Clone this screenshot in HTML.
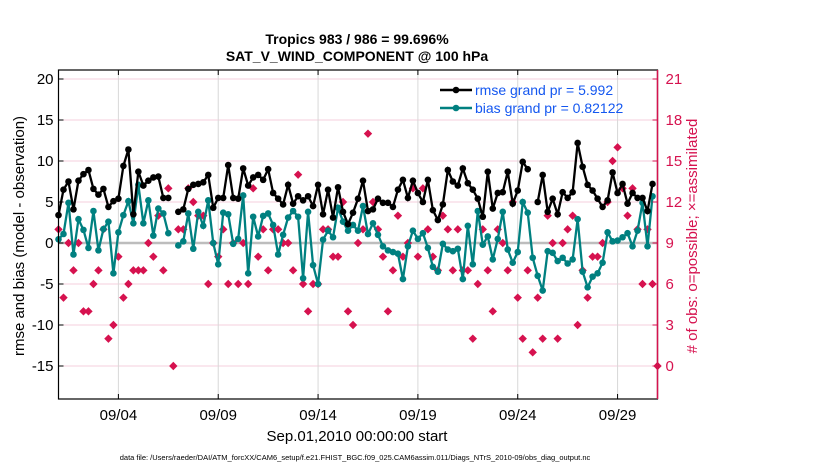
<!DOCTYPE html>
<html><head><meta charset="utf-8"><style>
body{margin:0;background:#fff;}
svg{display:block;font-family:"Liberation Sans",sans-serif;}
</style></head><body>
<svg id="chart" width="830" height="470" viewBox="0 0 830 470">
<text x="357" y="44" text-anchor="middle" font-size="14" font-weight="bold">Tropics 983 / 986 = 99.696%</text>
<text x="357" y="61" text-anchor="middle" font-size="14" font-weight="bold">SAT_V_WIND_COMPONENT @ 100 hPa</text>
<g id="grid"></g>
<g id="marks"></g>
<g id="axes"></g>
<text transform="translate(24,236) rotate(-90)" text-anchor="middle" font-size="15">rmse and bias (model - observation)</text>
<text transform="translate(697,236) rotate(-90)" text-anchor="middle" font-size="15" fill="#d6124f"># of obs: o=possible; ×=assimilated</text>
<text x="357" y="441" text-anchor="middle" font-size="15">Sep.01,2010 00:00:00 start</text>
<text x="355" y="460" text-anchor="middle" font-size="7.5">data file: /Users/raeder/DAI/ATM_forcXX/CAM6_setup/f.e21.FHIST_BGC.f09_025.CAM6assim.011/Diags_NTrS_2010-09/obs_diag_output.nc</text>
<g>
<line x1="440" y1="90" x2="472" y2="90" stroke="#000" stroke-width="2.5"/>
<circle cx="456" cy="90" r="3.3" fill="#000"/>
<text x="475" y="95" font-size="14" fill="#1457f0">rmse grand pr = 5.992</text>
<line x1="440" y1="108" x2="472" y2="108" stroke="#008080" stroke-width="2.5"/>
<circle cx="456" cy="108" r="3.3" fill="#008080"/>
<text x="475" y="113" font-size="14" fill="#1457f0">bias grand pr = 0.82122</text>
</g>
</svg>
<script>
const leftTicks=[-15,-10,-5,0,5,10,15,20];
const rightTicks=[0,3,6,9,12,15,18,21];
const dateTicks=[3,8,13,18,23,28];
const dateLabels=["09/04","09/09","09/14","09/19","09/24","09/29"];
const rmse=[3.4,6.5,7.5,4.1,7.6,8.4,8.9,6.6,5.9,6.6,4.4,5.1,5.4,9.4,11.4,3.5,8.7,7.0,7.6,8.0,8.1,5.5,5.5,null,
3.8,4.1,6.6,7.1,7.2,7.4,8.3,4.3,5.5,5.5,9.5,5.5,5.4,9.1,7.0,
8.0,8.3,7.7,9.0,6.1,5.4,4.7,7.1,4.8,5.7,5.2,5.7,4.5,7.1,3.5,6.5,3.1,6.8,3.8,2.3,3.7,5.4,7.6,3.9,4.1,5.4,4.9,4.9,4.4,6.5,7.7,5.5,7.6,6.1,5.0,7.7,4.0,2.8,
4.7,8.9,7.5,7.0,9.1,7.3,6.5,5.4,3.2,8.7,4.2,6.1,6.2,8.7,4.8,6.4,9.9,9.0,null,
5.0,8.3,3.8,5.4,3.5,6.2,5.5,6.2,12.2,9.3,7.1,6.4,5.4,4.4,5.2,8.6,6.1,7.2,4.8,6.1,5.5,5.5,3.9,7.2];
const bias=[0.45,1.1,4.9,-1.4,2.9,1.6,-0.6,3.9,-0.9,1.7,2.6,-3.7,1.3,3.4,5.1,2.4,7.1,2.4,5.2,0.9,4.2,3.6,1.2,null,
-0.3,0.2,3.6,-0.7,3.8,2.1,5.2,0.0,-2.6,3.7,3.5,-0.1,0.5,5.8,-3.7,
3.2,0.8,3.3,3.6,2.2,-1.4,1.0,3.1,3.9,3.2,-4.3,3.8,-2.7,-5.0,0.4,1.5,0.7,4.3,2.6,1.5,2.2,1.5,4.5,1.1,2.4,1.0,-0.4,-0.9,-1.1,-1.3,-4.4,-0.4,1.5,0.5,1.2,-0.6,-2.9,-3.5,
-0.1,-0.8,-1.0,-0.7,-4.4,2.1,-2.6,3.9,-0.2,0.8,-2.0,0.5,3.8,-0.8,-2.4,-1.1,5.0,3.7,-1.8,
-4.0,-5.8,-1.0,-1.2,-2.2,-1.8,-2.5,-2.0,2.9,-3.5,-5.4,-4.1,-3.7,-2.4,1.3,0.2,0.3,0.7,1.2,-0.4,1.5,4.9,-0.4,5.7];
const nObs=[10,5,9,7,9,4,4,6,7,10,2,3,8,5,6,7,7,7,9,8,11,7,13,0,10,10,13,12,11,11,6,9,8,10,6,9,6,9,6,13,8,10,7,10,10,9,9,7,14,6,4,6,6,10,10,8,8,12,4,3,9,10,17,12,10,8,4,7,11,8,9,13,8,13,10,8,7,11,10,7,10,7,7,2,6,10,7,4,10,9,7,12,5,2,7,1,5,2,11,9,2,9,10,11,3,7,5,8,8,9,12,15,16,13,11,13,10,6,10,6,0];

const X0=58.5,X1=657.5,Y0=70,Y1=399;
function xs(i){return X0+i*(X1-X0)/120;}
function xd(d){return X0+d*(X1-X0)/30;}
function yl(v){return 243-v*8.2;}
function yr(r){return 243-(r-9)*41/3;}
const NS="http://www.w3.org/2000/svg";
function mk(tag,attrs,parent){const e=document.createElementNS(NS,tag);for(const k in attrs)e.setAttribute(k,attrs[k]);parent.appendChild(e);return e;}
const grid=document.getElementById('grid'),marks=document.getElementById('marks'),axes=document.getElementById('axes');

leftTicks.forEach(v=>{
  const g=mk('line',{x1:X0,x2:X1,y1:yl(v),y2:yl(v),stroke:'#f6cfdc','stroke-width':1},grid);
  
  
  mk('line',{x1:X0,x2:X0+5,y1:yl(v),y2:yl(v),stroke:'#000'},axes);
  const lb=mk('text',{x:X0-5,y:yl(v)+5,'text-anchor':'end','font-size':15},axes);
  lb.textContent=v;
  
  
});
dateTicks.forEach((d,k)=>{
  const g=mk('line',{x1:xd(d),x2:xd(d),y1:Y0,y2:Y1,stroke:'#d8d8d8','stroke-width':1},grid);
  
  
  mk('line',{x1:xd(d),x2:xd(d),y1:Y1,y2:Y1-5,stroke:'#000'},axes);
  mk('line',{x1:xd(d),x2:xd(d),y1:Y0,y2:Y0+5,stroke:'#000'},axes);
  const lb=mk('text',{x:xd(d),y:Y1+21,'text-anchor':'middle','font-size':15},axes);
  lb.textContent=dateLabels[k];
  
  
});
const zl=mk('line',{x1:X0,x2:X1,y1:yl(0),y2:yl(0),stroke:'#bdbdbd','stroke-width':2.5},grid);



function drawLine(arr,color,name){
  let segs=[],cur=[];
  arr.forEach((v,i)=>{if(v===null){if(cur.length)segs.push(cur);cur=[];}else cur.push([xs(i),yl(v)]);});
  if(cur.length)segs.push(cur);
  segs.forEach(s=>{
    const p=mk('polyline',{points:s.map(q=>q.join(',')).join(' '),fill:'none',stroke:color,'stroke-width':2.3},marks);
    
    
  });
  arr.forEach((v,i)=>{if(v===null)return;
    const c=mk('circle',{cx:xs(i),cy:yl(v),r:3.3,fill:color},marks);
    
    
  });
}
nObs.forEach((r,i)=>{
  const x=xs(i),y=yr(r),s=4.2;
  const d=mk('polygon',{points:`${x},${y-s} ${x+s},${y} ${x},${y+s} ${x-s},${y}`,fill:'#d6124f'},marks);
  
  
});
drawLine(bias,'#008080','bias');
drawLine(rmse,'#000000','rmse');

mk('rect',{x:X0,y:Y0,width:X1-X0,height:Y1-Y0,fill:'none',stroke:'#000','stroke-width':1.2},axes);
mk('line',{x1:X1,x2:X1,y1:Y0,y2:Y1,stroke:'#d6124f','stroke-width':1.5},axes);
rightTicks.forEach(r=>{
  mk('line',{x1:X1-5,x2:X1,y1:yr(r),y2:yr(r),stroke:'#d6124f'},axes);
  const lb=mk('text',{x:X1+8,y:yr(r)+5,'font-size':15,fill:'#d6124f'},axes);
  lb.textContent=r;
  
  
});
</script>
</body></html>
